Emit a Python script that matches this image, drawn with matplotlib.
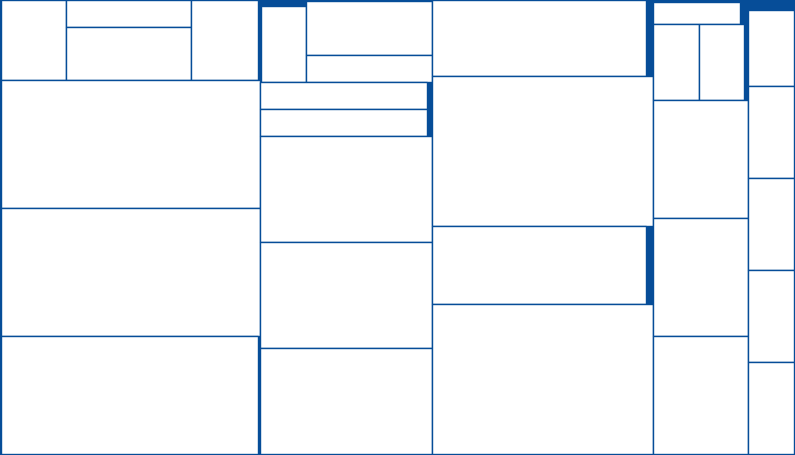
import matplotlib
matplotlib.use("Agg")
import matplotlib.pyplot as plt
from matplotlib.patches import Rectangle

# Treemap sizes (area units). A nested list is a group, split the other way
# from its parent. Negative numbers are unfilled remainders (left blank).
col_a = [[5346, [3375, 6750], 5427, -162], 33280, 33280, [30702, -238]]
col_b = [[-83, [-270, 3465], [-189, 6867, 3402]], [[4509, 4509], -270],
         18232, 18232, 18404]
col_c = [[16478, -539], 33150, [16692, -546], 33371]
col_d = [[[[[-176, 1936], -96], [3542, 3542]], -404], 11328, 11328, 11424]
col_e = [-483, 3519, 4232, 4232, 4232, 4278]

columns = [col_a, col_b, col_c, col_d, col_e]

blue = "#064d98"


def size(node):
    if isinstance(node, list):
        return sum(size(c) for c in node)
    return abs(node)


def layout(node, x0, y0, x1, y1, horizontal, out):
    # slice-and-dice layout
    if isinstance(node, list):
        total = size(node)
        pos = x0 if horizontal else y0
        for c in node:
            frac = size(c) / total
            if horizontal:
                w = (x1 - x0) * frac
                layout(c, pos, y0, pos + w, y1, not horizontal, out)
                pos += w
            else:
                h = (y1 - y0) * frac
                layout(c, x0, pos, x1, pos + h, not horizontal, out)
                pos += h
    elif node > 0:
        out.append((x0, y0, x1, y1))


cells = []
layout(columns, 0.0, 0.0, 1.0, 1.0, True, cells)

fig = plt.figure(figsize=(7.95, 4.56), dpi=100, facecolor=blue)
ax = fig.add_axes([0, 0, 1, 1])
ax.set_facecolor(blue)
# keep the outer edge lines inside the canvas
ax.set_xlim(-0.6 / 795, 1 + 0.6 / 795)
ax.set_ylim(1 + 0.6 / 456, -0.6 / 456)
ax.axis("off")

for x0, y0, x1, y1 in cells:
    ax.add_patch(Rectangle((x0, y0), x1 - x0, y1 - y0, facecolor="white",
                           edgecolor=blue, linewidth=1.0))

fig.savefig("out.png", dpi=100, facecolor=blue)
